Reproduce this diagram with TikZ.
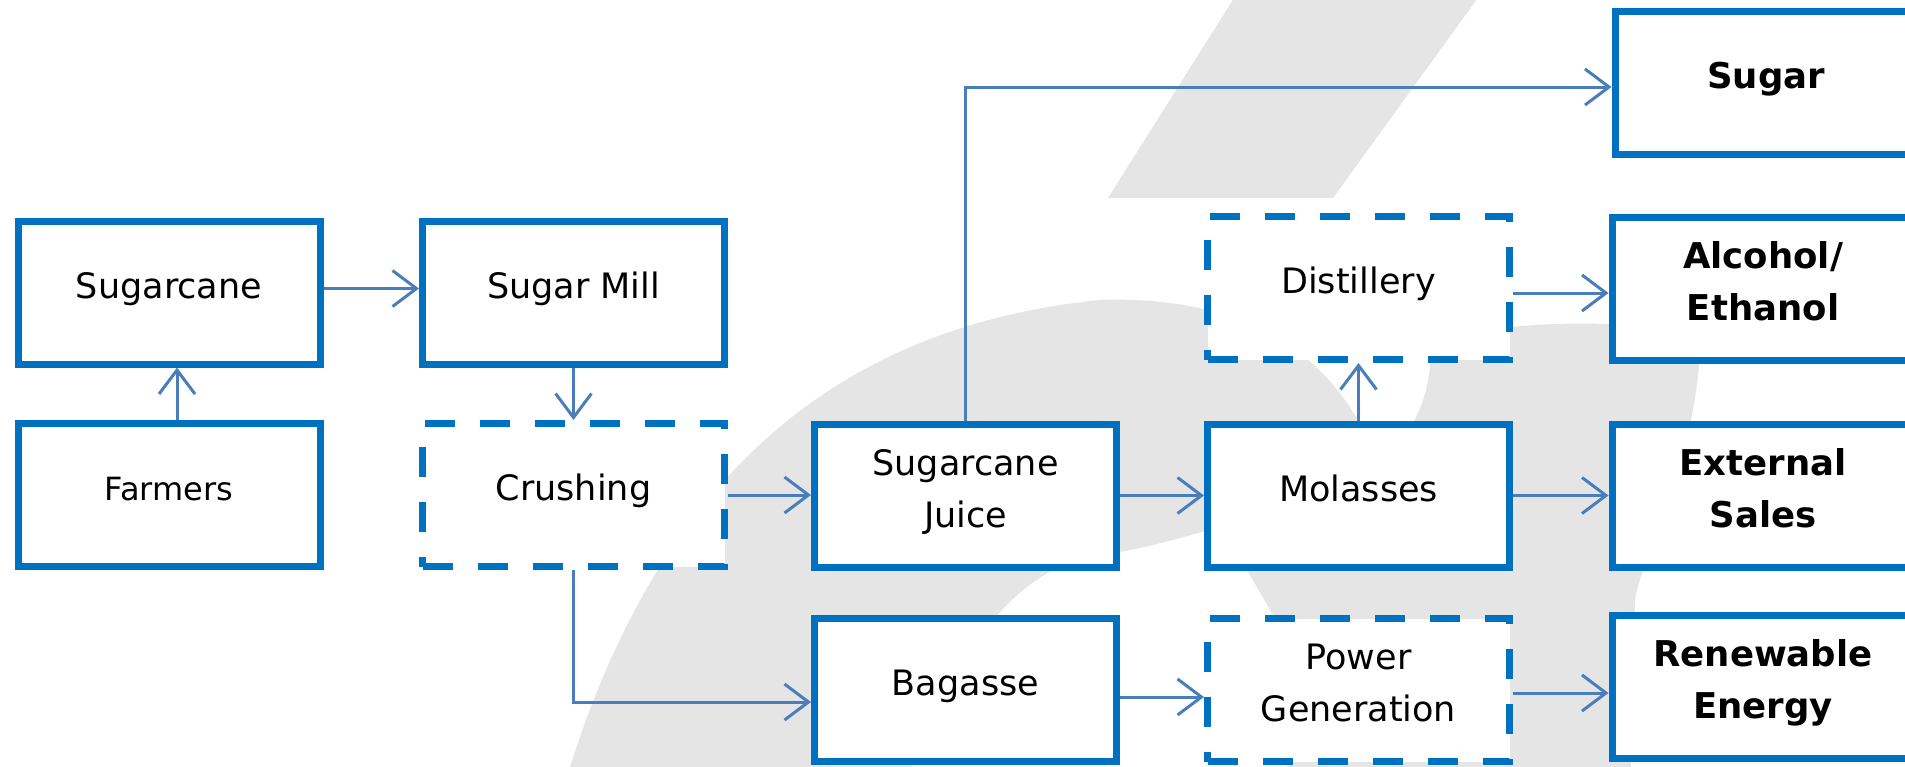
\documentclass[tikz,border=0pt]{standalone}
\usepackage{fontspec}
\setmainfont{DejaVu Sans}
\usetikzlibrary{arrows.meta,calc}
\definecolor{boxblue}{RGB}{0,112,192}
\definecolor{linkblue}{RGB}{74,126,187}
\definecolor{wmgray}{RGB}{229,229,229}
\newcommand{\mystrut}{\rule[-15pt]{0pt}{41pt}}
\begin{document}
\begin{tikzpicture}[x=1pt,y=-1pt,
  box/.style={draw=boxblue, line width=7pt, fill=white, minimum width=302pt,
    minimum height=143pt, inner sep=0pt, align=center,
    font=\fontsize{35}{52}\selectfont},
  dbox/.style={box, dash pattern=on 30pt off 25pt},
  bbox/.style={box, font=\fontsize{35.5}{52}\selectfont\bfseries},
  link/.style={draw=linkblue, line width=3pt,
    -{Straight Barb[length=24pt,width=36pt]}},
]
\useasboundingbox (0,0) rectangle (1905,766);
\clip (0,0) rectangle (1905,766);

% watermark
\fill[wmgray] (1236,-5) -- (1480,-5) -- (1333,198) -- (1108,198) -- cycle;
\fill[wmgray] (560,800) .. controls (640,520) and (800,330) .. (1100,300)
  .. controls (1240,295) and (1340,350) .. (1380,470)
  .. controls (1300,500) and (1180,545) .. (1100,555)
  .. controls (1020,565) and (950,650) .. (900,800) -- cycle;
\fill[wmgray] (1430,345) .. controls (1480,320) and (1650,315) .. (1700,340)
  .. controls (1700,450) and (1640,560) .. (1635,600)
  -- (1630,800) -- (1290,800) -- (1277,622) -- (1247,570)
  .. controls (1230,540) and (1330,460) .. (1414,421)
  .. controls (1425,400) and (1432,375) .. (1430,345) -- cycle;

% boxes
\node[box]  (sugarcane)  at (169,292.5)  {\mystrut Sugarcane};
\node[box, font=\fontsize{32}{52}\selectfont] (farmers) at (169,495) {\mystrut Farmers};
\node[box]  (mill)       at (573.5,292.5) {\mystrut Sugar Mill};
\node[dbox] (crushing)   at (573.5,495)  {\mystrut Crushing};
\node[box]  (juice)      at (965.5,495.5) {\mystrut Sugarcane\\\mystrut Juice};
\node[box]  (bagasse)    at (965.5,690)  {\mystrut Bagasse};
\node[dbox] (distillery) at (1358.5,288) {\mystrut Distillery};
\node[box]  (molasses)   at (1358.5,495.5) {\mystrut Molasses};
\node[dbox] (power)      at (1358.5,690) {\mystrut Power\\\mystrut Generation};
\node[bbox] (sugar)      at (1766,82.5)  {\mystrut Sugar};
\node[bbox] (alcohol)    at (1763,288.5) {\mystrut Alcohol/\\\mystrut Ethanol};
\node[bbox] (external)   at (1763,495.5) {\mystrut External\\\mystrut Sales};
\node[bbox] (renewable)  at (1763,687)   {\mystrut Renewable\\\mystrut Energy};

% connectors
\draw[link] ([xshift=8pt]farmers.north) -- ([xshift=8pt]sugarcane.south);
\draw[link] ([yshift=4pt]sugarcane.east) -- ([yshift=4pt]mill.west);
\draw[link] (mill.south) -- (crushing.north);
\draw[link] (crushing.east) -- (crushing.east -| juice.west);
\draw[link] (crushing.south) |- ([yshift=-12pt]bagasse.west);
\draw[link] (juice.north) |- ([yshift=-4.5pt]sugar.west);
\draw[link] (juice.east) -- (molasses.west);
\draw[link] (molasses.north) -- (distillery.south);
\draw[link] ([yshift=-5pt]distillery.east) -- ([yshift=-5pt]distillery.east -| alcohol.west);
\draw[link] (molasses.east) -- (external.west);
\draw[link] ([yshift=-7pt]bagasse.east) -- ([yshift=-7pt]power.west);
\draw[link] ([yshift=-3pt]power.east) -- ([yshift=-3pt]power.east -| renewable.west);
\end{tikzpicture}
\end{document}
